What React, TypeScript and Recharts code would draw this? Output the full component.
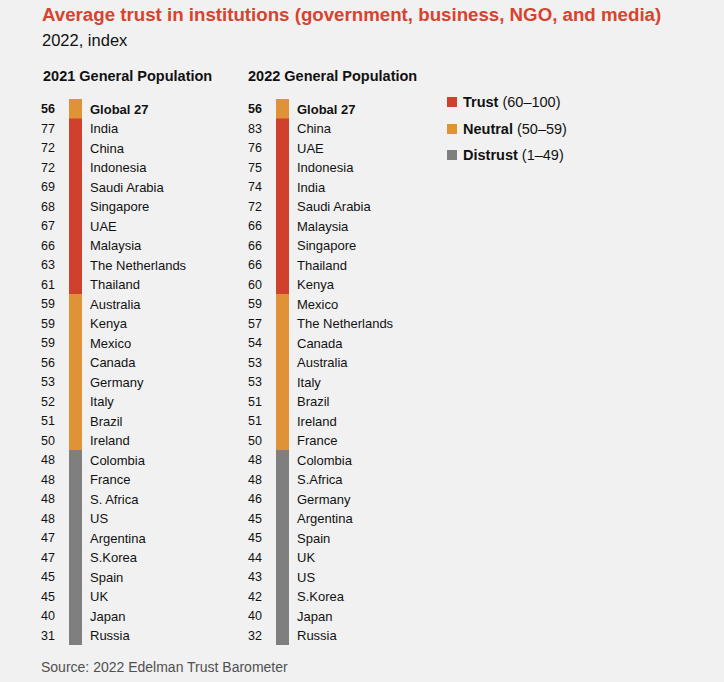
import { Bar, BarChart, Cell, LabelList, XAxis, YAxis } from "recharts"

const FONT = '"Liberation Sans", Arial, Helvetica, sans-serif'

const TRUST = "#d0412d"
const NEUTRAL = "#e09237"
const DISTRUST = "#7f7f7f"

const NAMES_2021 = [
  "Global 27", "India", "China", "Indonesia", "Saudi Arabia", "Singapore", "UAE",
  "Malaysia", "The Netherlands", "Thailand", "Australia", "Kenya", "Mexico", "Canada",
  "Germany", "Italy", "Brazil", "Ireland", "Colombia", "France", "S. Africa", "US",
  "Argentina", "S.Korea", "Spain", "UK", "Japan", "Russia",
]
const VALUES_2021 = [
  56, 77, 72, 72, 69, 68, 67, 66, 63, 61, 59, 59, 59, 56,
  53, 52, 51, 50, 48, 48, 48, 48, 47, 47, 45, 45, 40, 31,
]

const NAMES_2022 = [
  "Global 27", "China", "UAE", "Indonesia", "India", "Saudi Arabia", "Malaysia",
  "Singapore", "Thailand", "Kenya", "Mexico", "The Netherlands", "Canada", "Australia",
  "Italy", "Brazil", "Ireland", "France", "Colombia", "S.Africa", "Germany", "Argentina",
  "Spain", "UK", "US", "S.Korea", "Japan", "Russia",
]
const VALUES_2022 = [
  56, 83, 76, 75, 74, 72, 66, 66, 66, 60, 59, 57, 54, 53,
  53, 51, 51, 50, 48, 48, 46, 45, 45, 44, 43, 42, 40, 32,
]

const LEGEND = [
  { label: "Trust", range: "(60–100)", color: TRUST },
  { label: "Neutral", range: "(50–59)", color: NEUTRAL },
  { label: "Distrust", range: "(1–49)", color: DISTRUST },
]

function bandColor(v: number) {
  if (v >= 60) return TRUST
  if (v >= 50) return NEUTRAL
  return DISTRUST
}

interface Row {
  name: string
  value: number
  span: number
}

function toRows(names: string[], values: number[]): Row[] {
  // every row gets the same full-width strip, coloured by its band
  return names.map((name, i) => ({ name, value: values[i], span: 1 }))
}

const valueLabel = (props: any) => {
  const { x, y, height, value, index } = props
  return (
    <text
      x={x - 14}
      y={y + height / 2}
      dy="0.35em"
      textAnchor="end"
      fontFamily={FONT}
      fontSize={12.5}
      fontWeight={index === 0 ? 700 : 400}
      fill="#111"
    >
      {value}
    </text>
  )
}

const nameLabel = (props: any) => {
  const { x, y, width, height, value, index } = props
  return (
    <text
      x={x + width + 8}
      y={y + height / 2}
      dy="0.35em"
      textAnchor="start"
      fontFamily={FONT}
      fontSize={13}
      fontWeight={index === 0 ? 700 : 400}
      fill="#111"
    >
      {value}
    </text>
  )
}

function Column({ rows, left }: { rows: Row[]; left: number }) {
  return (
    <div style={{ position: "absolute", left, top: 99 }}>
      <BarChart
        width={220}
        height={546}
        data={rows}
        layout="vertical"
        barCategoryGap={0}
        margin={{ top: 0, right: 138, bottom: 0, left: 69 }}
      >
        <XAxis type="number" domain={[0, 1]} hide />
        <YAxis type="category" dataKey="name" hide />
        <Bar dataKey="span" isAnimationActive={false}>
          {rows.map(r => (
            <Cell key={r.name} fill={bandColor(r.value)} />
          ))}
          <LabelList dataKey="value" content={valueLabel} />
          <LabelList dataKey="name" content={nameLabel} />
        </Bar>
      </BarChart>
    </div>
  )
}

export default function App() {
  const rows2021 = toRows(NAMES_2021, VALUES_2021)
  const rows2022 = toRows(NAMES_2022, VALUES_2022)

  return (
    <div
      style={{
        position: "absolute",
        left: 0,
        top: 0,
        width: 724,
        height: 682,
        background: "#f1f1f1",
        fontFamily: FONT,
        color: "#111",
      }}
    >
      <div style={{ position: "absolute", left: 42, top: 4, fontSize: 18.7, fontWeight: 700, color: "#d7432e", whiteSpace: "nowrap" }}>
        Average trust in institutions (government, business, NGO, and media)
      </div>
      <div style={{ position: "absolute", left: 42, top: 31, fontSize: 16.5 }}>2022, index</div>

      <div style={{ position: "absolute", left: 43, top: 68, fontSize: 14.5, fontWeight: 700 }}>
        2021 General Population
      </div>
      <div style={{ position: "absolute", left: 248, top: 68, fontSize: 14.5, fontWeight: 700 }}>
        2022 General Population
      </div>

      <Column rows={rows2021} left={0} />
      <Column rows={rows2022} left={207} />

      <div style={{ position: "absolute", left: 447, top: 89 }}>
        {LEGEND.map(l => (
          <div key={l.label} style={{ display: "flex", alignItems: "center", height: 26.5, fontSize: 14.5 }}>
            <span style={{ width: 10, height: 10, background: l.color, marginRight: 6 }} />
            <b>{l.label}</b>
            <span style={{ marginLeft: 4 }}>{l.range}</span>
          </div>
        ))}
      </div>

      <div style={{ position: "absolute", left: 41, top: 658.5, fontSize: 14, color: "#505050" }}>
        Source: 2022 Edelman Trust Barometer
      </div>
    </div>
  )
}
